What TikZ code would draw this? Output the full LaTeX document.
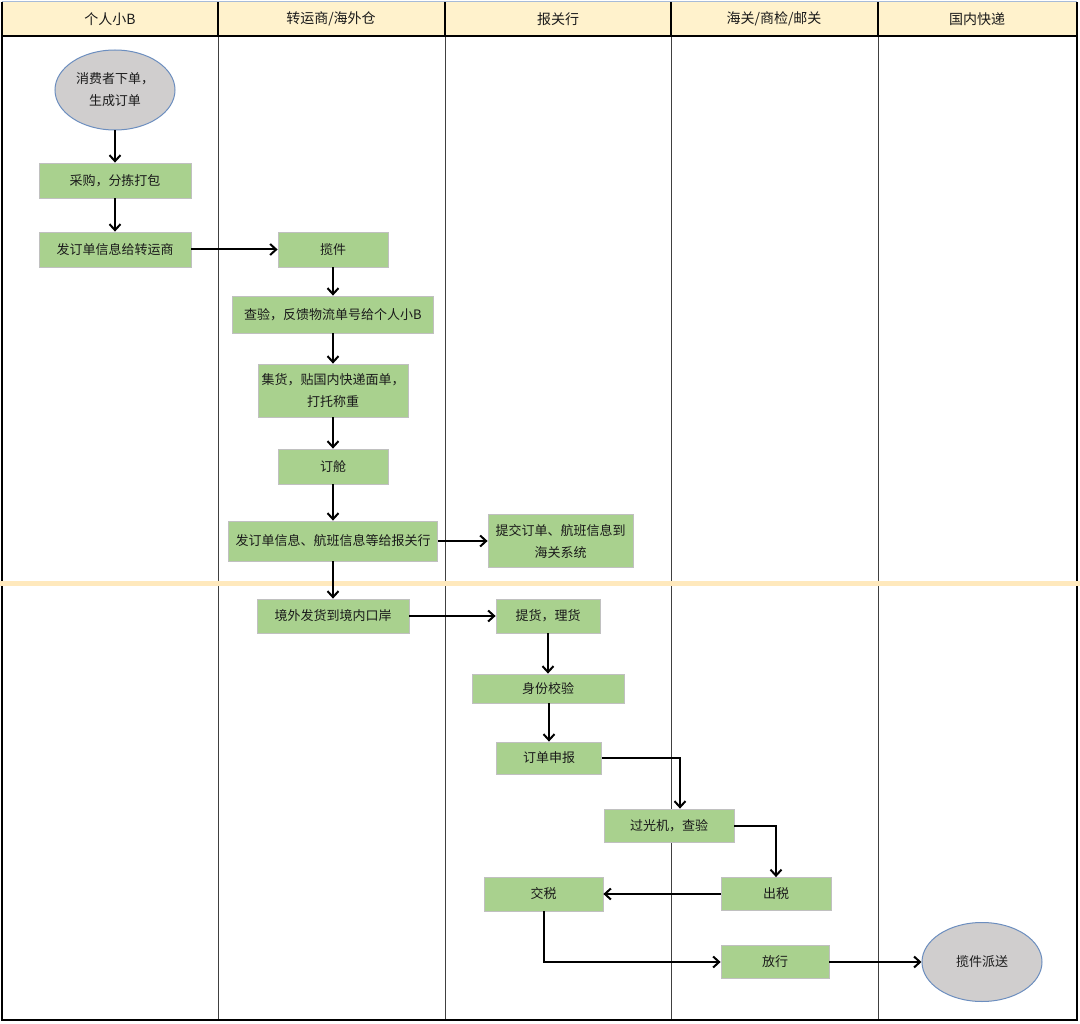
\documentclass[tikz,border=0pt]{standalone}
\usepackage{fontspec}
\setmainfont{Noto Sans CJK SC}
\usetikzlibrary{shapes.geometric,arrows.meta}
\definecolor{hdrfill}{HTML}{FFF2CC}
\definecolor{boxgreen}{HTML}{A9D18E}
\definecolor{boxline}{HTML}{C0C0C0}
\definecolor{ovalfill}{HTML}{D0CECE}
\definecolor{ovalline}{HTML}{6C8EBF}
\definecolor{laneline}{HTML}{404040}
\definecolor{band}{HTML}{FFE9BD}
\definecolor{txt}{HTML}{1A1A1A}
\tikzset{
  box/.style={draw=boxline, line width=0.8pt, fill=boxgreen, inner sep=2pt, align=center, text=txt, font=\fontsize{13}{22}\selectfont},
  oval/.style={ellipse, draw=ovalline, line width=1pt, fill=ovalfill, inner sep=0pt, align=center, text=txt, font=\fontsize{13}{22}\selectfont},
  flow/.style={line width=2pt, -{Straight Barb[length=6pt,width=11pt,line width=2pt]}},
  hdr/.style={font=\fontsize{14}{16}\selectfont, text=txt}
}
\begin{document}
\begin{tikzpicture}[x=1pt,y=-1pt]
\useasboundingbox (0,0) rectangle (1080,1024);
\fill[white] (0,0) rectangle (1080,1024);
% header
\fill[hdrfill] (2,2) rectangle (1077,36);
\draw[laneline, line width=0.8pt] (218,36) -- (218,1020) (445,36) -- (445,1020) (671,36) -- (671,1020) (878,36) -- (878,1020);
\draw[black, line width=1.6pt] (218,2) -- (218,36) (445,2) -- (445,36) (671,2) -- (671,36) (878,2) -- (878,36);
\draw[black, line width=1.4pt] (2,36) -- (1077,36);
\draw[ovalline!60, line width=1pt] (2,2) -- (1077,2);
\draw[black, line width=1.2pt] (2,2) -- (2,1020) -- (1077,1020) -- (1077,2);
\node[hdr] (h1) at (110,19) {个人小B};
\node[hdr] (h2) at (331,19) {转运商/海外仓};
\node[hdr] (h3) at (558,19) {报关行};
\node[hdr] (h4) at (774,19) {海关/商检/邮关};
\node[hdr] (h5) at (977,19) {国内快递};
% band
\fill[band] (0,581) rectangle (1080,585.5);
% nodes
\node[oval, minimum width=120, minimum height=80] (n1) at (115,90) {消费者下单，\\生成订单};
\node[box, minimum width=152, minimum height=35] (n2) at (115,180.5) {采购，分拣打包};
\node[box, minimum width=152, minimum height=35] (n3) at (115,249.5) {发订单信息给转运商};
\node[box, minimum width=110, minimum height=35] (n4) at (333,249.5) {揽件};
\node[box, minimum width=201, minimum height=37] (n5) at (333,314.5) {查验，反馈物流单号给个人小B};
\node[box, text width=146, minimum height=53] (n6) at (333,390.5) {集货，贴国内快递面单，\\打托称重};
\node[box, minimum width=110, minimum height=35] (n7) at (333,466.5) {订舱};
\node[box, minimum width=209, minimum height=40] (n8) at (333,541) {发订单信息、航班信息等给报关行};
\node[box, text width=141, minimum height=53] (n9) at (560.5,541) {提交订单、航班信息到\\海关系统};
\node[box, minimum width=152, minimum height=34] (n10) at (333,616) {境外发货到境内口岸};
\node[box, minimum width=104, minimum height=34] (n11) at (548,616) {提货，理货};
\node[box, minimum width=152, minimum height=29] (n12) at (548,688.5) {身份校验};
\node[box, minimum width=105, minimum height=32] (n13) at (549,758) {订单申报};
\node[box, minimum width=130, minimum height=33] (n14) at (669,825.5) {过光机，查验};
\node[box, minimum width=110, minimum height=33] (n15) at (776,894) {出税};
\node[box, minimum width=119, minimum height=34] (n16) at (543.5,894) {交税};
\node[box, minimum width=108, minimum height=33] (n17) at (775,962) {放行};
\node[oval, minimum width=120, minimum height=79] (n18) at (982,962) {揽件派送};
% connectors
\draw[flow] (n1) -- (n2);
\draw[flow] (n2) -- (n3);
\draw[flow] (n3) -- (n4);
\draw[flow] (n4) -- (n5);
\draw[flow] (n5) -- (n6);
\draw[flow] (n6) -- (n7);
\draw[flow] (n7) -- (n8);
\draw[flow] (n8) -- (n9);
\draw[flow] (n8) -- (n10);
\draw[flow] (n10) -- (n11);
\draw[flow] (n11) -- (n12);
\draw[flow] (n12.south -| n13) -- (n13);
\draw[flow] (n13.east) -| ([xshift=11pt]n14.north);
\draw[flow] (n14.east) -| (n15.north);
\draw[flow] (n15) -- (n16);
\draw[flow] (n16.south) |- (n17.west);
\draw[flow] (n17) -- (n18);
\end{tikzpicture}
\end{document}
